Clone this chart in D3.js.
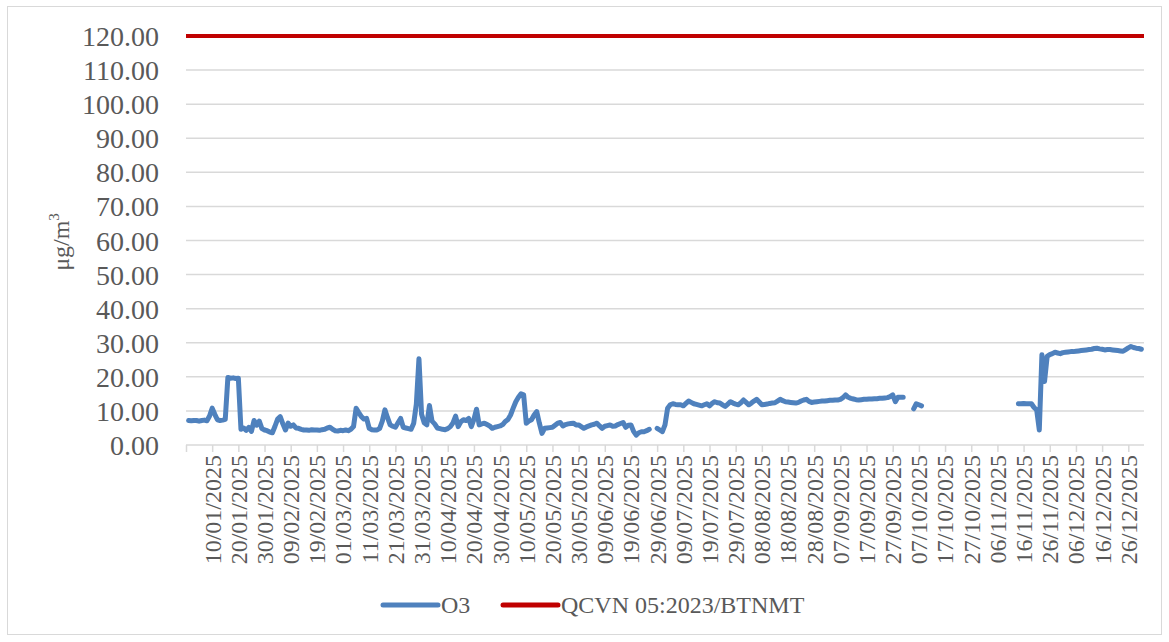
<!DOCTYPE html>
<html>
<head>
<meta charset="utf-8">
<script src="https://cdn.jsdelivr.net/npm/d3@7"></script>
<style>
  body { margin: 0; background: #fff; }
  svg text { font-family: "Liberation Serif", "Times New Roman", serif; fill: #595959; }
</style>
</head>
<body>
<svg id="chart"></svg>
<script>
// daily O3 (µg/m3) from 01/01/2025, null = no data
const o3 = [
  7.2, 7.1, 7.2, 7.2, 7.0, 7.2, 7.3, 7.1, 8.5, 10.8,
  9.0, 7.4, 7.2, 7.3, 7.5, 19.8, 19.6, 19.7, 19.5, 19.6,
  4.6, 5.0, 4.3, 5.2, 4.0, 7.2, 5.8, 7.0, 4.8, 4.4,
  4.2, 3.8, 3.6, 5.5, 7.6, 8.3, 6.2, 4.4, 6.4, 5.5,
  5.9, 5.0, 4.9, 4.6, 4.4, 4.4, 4.3, 4.5, 4.4, 4.4,
  4.3, 4.5, 4.6, 5.0, 5.2, 4.6, 4.2, 4.1, 4.3, 4.2,
  4.4, 4.2, 4.6, 5.4, 10.8, 9.5, 8.3, 7.6, 7.8, 4.9,
  4.5, 4.4, 4.4, 4.9, 7.0, 10.3, 8.0, 5.9, 5.5, 5.2,
  6.5, 7.8, 5.2, 5.0, 4.8, 4.6, 6.4, 12.0, 25.3, 9.0,
  6.5, 5.9, 11.6, 7.0, 6.2, 5.0, 4.8, 4.6, 4.5, 4.8,
  5.4, 6.5, 8.5, 5.4, 6.8, 7.4, 7.2, 7.8, 5.4, 7.5,
  10.5, 5.9, 6.2, 6.4, 6.0, 5.6, 4.9, 5.2, 5.4, 5.6,
  6.0, 6.9, 7.5, 8.8, 10.8, 12.7, 14.0, 15.0, 14.7, 6.4,
  7.0, 7.4, 8.8, 9.8, 6.4, 3.4, 4.9, 5.0, 5.1, 5.2,
  5.8, 6.4, 6.6, 5.6, 6.0, 6.2, 6.3, 6.4, 5.9, 5.9,
  5.4, 4.9, 5.3, 5.6, 5.9, 6.1, 6.4, 5.6, 4.9, 5.5,
  5.7, 5.9, 5.5, 5.6, 6.0, 6.3, 6.6, 5.2, 5.8, 5.9,
  4.0, 2.9, 3.6, 3.9, 3.9, 4.2, 4.6, null, null, 4.9,
  4.4, 3.9, 5.9, 10.8, 11.8, 12.1, 11.9, 11.8, 11.8, 11.5,
  12.2, 12.9, 12.5, 12.1, 11.9, 11.7, 11.5, 11.8, 12.1, 11.5,
  12.2, 12.7, 12.4, 12.3, 11.8, 11.3, 12.0, 12.7, 12.3, 12.0,
  11.8, 12.4, 13.2, 12.5, 11.8, 12.3, 12.9, 13.4, 12.6, 11.8,
  11.9, 12.0, 12.2, 12.3, 12.4, 12.9, 13.4, 13.0, 12.7, 12.6,
  12.5, 12.4, 12.3, 12.5, 12.9, 13.2, 13.4, 12.8, 12.5, 12.6,
  12.7, 12.8, 12.9, 12.9, 13.0, 13.1, 13.1, 13.2, 13.2, 13.4,
  13.9, 14.7, 14.0, 13.7, 13.5, 13.3, 13.2, 13.3, 13.4, 13.4,
  13.5, 13.5, 13.6, 13.6, 13.7, 13.7, 13.8, 13.9, 14.2, 14.7,
  12.7, 14.0, 14.0, 14.0, null, null, null, 10.6, 12.1, 11.8,
  11.5, null, null, null, null, null, null, null, null, null,
  null, null, null, null, null, null, null, null, null, null,
  null, null, null, null, null, null, null, null, null, null,
  null, null, null, null, null, null, null, 12.1, 12.1, 12.2,
  12.1, 12.1, 12.1, 11.0, 10.3, 4.4, 26.5, 18.6, 26.0, 26.5,
  26.8, 27.2, 27.0, 26.8, 27.1, 27.2, 27.3, 27.4, 27.4, 27.5,
  27.6, 27.7, 27.8, 27.9, 28.0, 28.1, 28.3, 28.4, 28.2, 28.1,
  27.9, 28.0, 28.0, 27.9, 27.8, 27.7, 27.6, 27.5, 28.0, 28.5,
  28.9, 28.6, 28.4, 28.3, 28.1
];
const limit = 120;
const yTicks = [0, 10, 20, 30, 40, 50, 60, 70, 80, 90, 100, 110, 120];
const xTickLabels = [
  "10/01/2025", "20/01/2025", "30/01/2025", "09/02/2025", "19/02/2025", "01/03/2025",
  "11/03/2025", "21/03/2025", "31/03/2025", "10/04/2025", "20/04/2025", "30/04/2025",
  "10/05/2025", "20/05/2025", "30/05/2025", "09/06/2025", "19/06/2025", "29/06/2025",
  "09/07/2025", "19/07/2025", "29/07/2025", "08/08/2025", "18/08/2025", "28/08/2025",
  "07/09/2025", "17/09/2025", "27/09/2025", "07/10/2025", "17/10/2025", "27/10/2025",
  "06/11/2025", "16/11/2025", "26/11/2025", "06/12/2025", "16/12/2025", "26/12/2025"
];
const seriesNames = ["O3", "QCVN 05:2023/BTNMT"];
const seriesColors = ["#4f81bd", "#c00000"];

const width = 1169, height = 642;
const parse = d3.timeParse("%d/%m/%Y");
const start = parse("01/01/2025");
const data = o3.map((v, i) => ({ date: d3.timeDay.offset(start, i), v: v }));
const tickDates = [d3.timeDay.offset(start, -1)].concat(xTickLabels.map(parse));

const svg = d3.select("#chart").attr("width", width).attr("height", height);

svg.append("rect")
   .attr("x", 7.5).attr("y", 6.5)
   .attr("width", 1154).attr("height", 628)
   .attr("fill", "#fff").attr("stroke", "#d9d9d9");

let x = d3.scaleTime()
    .domain([d3.timeDay.offset(start, -1), d3.timeDay.offset(start, 365)])
    .range([186, 1144]);

let y = d3.scaleLinear()
    .domain([0, 120])
    .range([445, 36]);

// grid
svg.append("g")
   .selectAll("line")
   .data(yTicks.slice(1))
   .enter()
   .append("line")
   .attr("x1", x.range()[0]).attr("x2", x.range()[1])
   .attr("y1", d => y(d)).attr("y2", d => y(d))
   .attr("stroke", "#d9d9d9").attr("stroke-width", 1.5);

// y axis labels
let yAxis = svg.append("g")
   .attr("transform", "translate(186,0)")
   .call(d3.axisLeft(y).tickValues(yTicks).tickSize(0).tickPadding(27).tickFormat(d3.format(".2f")));
yAxis.select(".domain").remove();
yAxis.selectAll("text")
   .attr("font-size", 28)
   .attr("font-family", null)
   .attr("fill", null)
   .attr("dy", "0.34em");

// x axis
let xAxis = svg.append("g")
   .attr("transform", "translate(0,445)")
   .call(d3.axisBottom(x).tickValues(tickDates).tickSize(7).tickSizeOuter(0)
        .tickFormat((d, i) => i === 0 ? "" : d3.timeFormat("%d/%m/%Y")(d)));
xAxis.select(".domain").attr("stroke", "#d9d9d9").attr("stroke-width", 1.5)
     .attr("d", `M${x.range()[0]},0H${x.range()[1]}`);
xAxis.selectAll(".tick line").attr("stroke", "#d9d9d9").attr("stroke-width", 1.5);
xAxis.selectAll("text")
   .attr("font-size", 24)
   .attr("font-family", null)
   .attr("fill", null)
   .attr("transform", "rotate(-90)")
   .attr("text-anchor", "end")
   .attr("x", -10)
   .attr("y", 0)
   .attr("dy", "0.33em");

// y axis title
svg.append("text")
   .attr("transform", "translate(69,242) rotate(-90)")
   .attr("text-anchor", "middle")
   .attr("font-size", 24)
   .text("μg/m")
   .append("tspan")
   .attr("font-size", 15)
   .attr("dy", "-0.7em")
   .text("3");

// limit line
svg.append("line")
   .attr("x1", x.range()[0]).attr("x2", x.range()[1])
   .attr("y1", y(limit)).attr("y2", y(limit))
   .attr("stroke", seriesColors[1]).attr("stroke-width", 4);

// O3 line
let line = d3.line()
    .defined(d => d.v !== null)
    .x(d => x(d.date))
    .y(d => y(d.v));

svg.append("path")
   .datum(data)
   .attr("d", line)
   .attr("fill", "none")
   .attr("stroke", seriesColors[0])
   .attr("stroke-width", 5)
   .attr("stroke-linejoin", "round")
   .attr("stroke-linecap", "round");

// isolated points between gaps
svg.append("g")
   .selectAll("circle")
   .data(data.filter((d, i) => d.v !== null && (i === 0 || o3[i - 1] === null) && (i === o3.length - 1 || o3[i + 1] === null)))
   .enter()
   .append("circle")
   .attr("cx", d => x(d.date)).attr("cy", d => y(d.v)).attr("r", 2.5)
   .attr("fill", seriesColors[0]);

// legend
let legendX = [383, 503];
let legend = svg.append("g")
   .selectAll("g")
   .data(seriesNames)
   .enter()
   .append("g")
   .attr("transform", (d, i) => `translate(${legendX[i]},605)`);
legend.append("line")
   .attr("x1", 0).attr("x2", 55)
   .attr("stroke", (d, i) => seriesColors[i])
   .attr("stroke-width", 5)
   .attr("stroke-linecap", "round");
legend.append("text")
   .attr("x", 58)
   .attr("dy", "0.35em")
   .attr("font-size", 24)
   .text(d => d);
</script>
</body>
</html>
